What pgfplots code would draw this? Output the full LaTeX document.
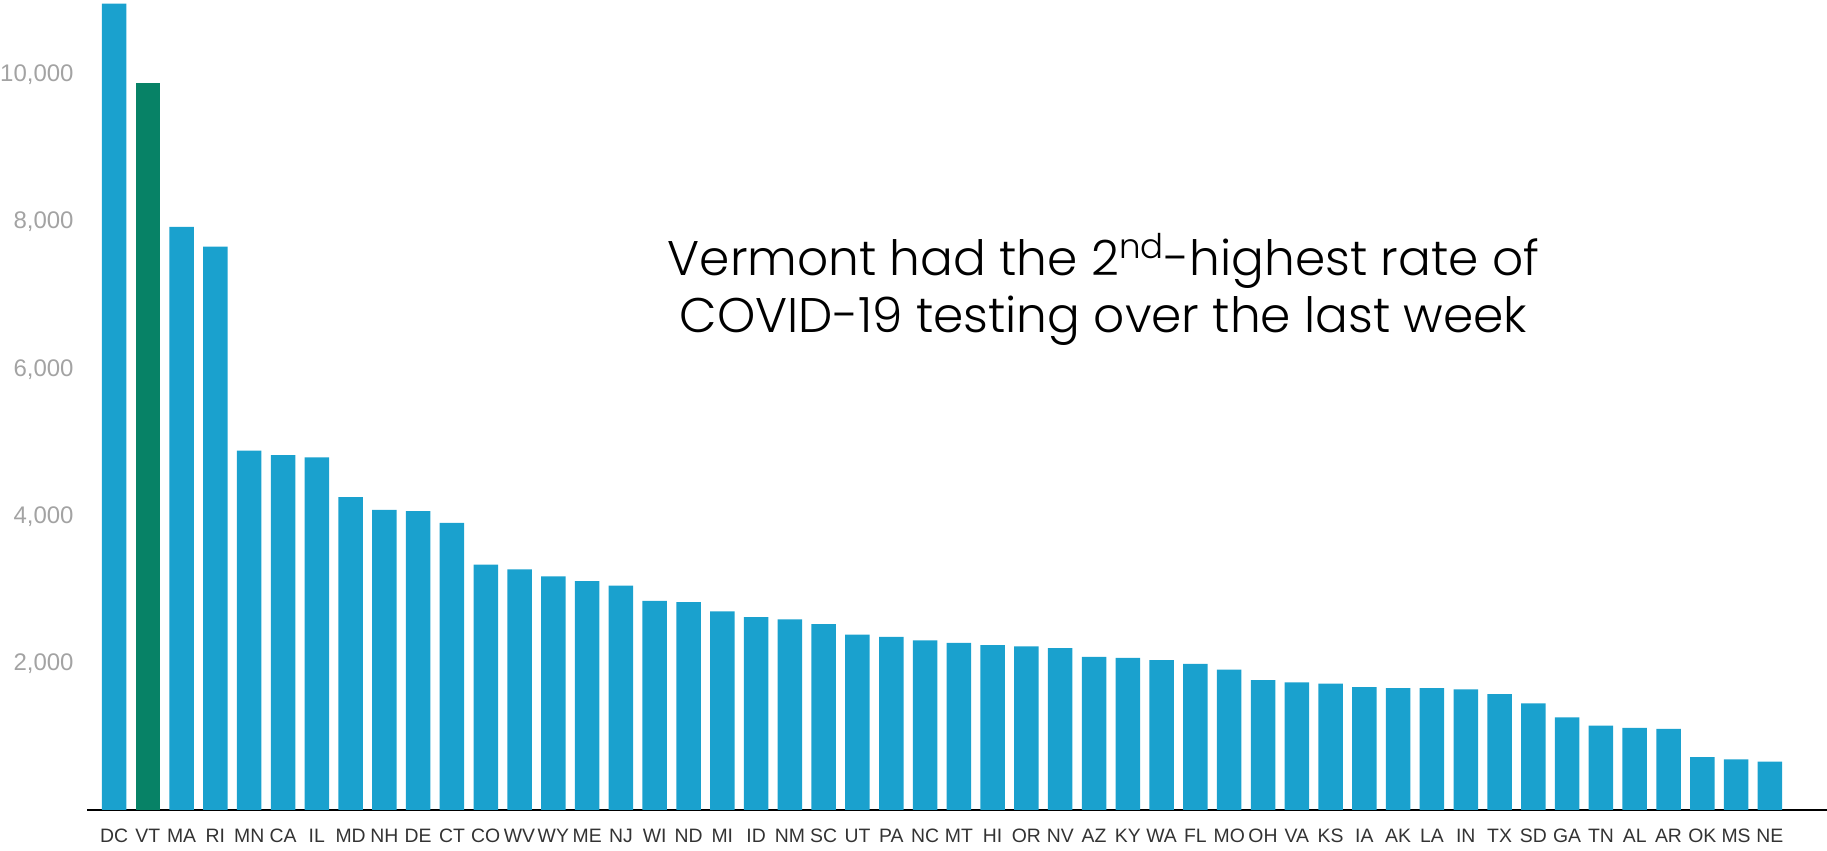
\documentclass[border=0pt]{standalone}
\usepackage{fontspec}
\setmainfont{Liberation Sans}
\IfFontExistsTF{Poppins Light}{\newfontfamily\titlefont{Poppins Light}}{\newfontfamily\titlefont{Poppins}}
\usepackage{pgfplots}
\pgfplotsset{compat=1.18}
\definecolor{barblue}{HTML}{1AA1CE}
\definecolor{vtgreen}{HTML}{078266}
\definecolor{ticky}{HTML}{A3A3A3}
\definecolor{tickx}{HTML}{333333}

\begin{document}
\begin{tikzpicture}
  \path[use as bounding box] (0,0) rectangle (913.5bp,425.5bp);
  \begin{axis}[at={(43.5bp,20.5bp)},anchor=south west,scale only axis,
    width=870bp,height=405bp,
    xmin=-0.8,xmax=50.69,ymin=0,ymax=10990,
    ybar,bar width=12.25bp,bar shift=0pt,
    axis x line*=bottom,axis y line*=left,
    y axis line style={draw=none},
    x axis line style={line width=1bp,black},
    major tick length=0pt,
    xtick={0,...,49},
    xticklabels={DC,VT,MA,RI,MN,CA,IL,MD,NH,DE,CT,CO,WV,WY,ME,NJ,WI,ND,MI,ID,NM,SC,UT,PA,NC,MT,HI,OR,NV,AZ,KY,WA,FL,MO,OH,VA,KS,IA,AK,LA,IN,TX,SD,GA,TN,AL,AR,OK,MS,NE},
    ytick={2000,4000,6000,8000,10000},
    scaled y ticks=false,
    /pgf/number format/assume math mode=true,
    /pgf/number format/1000 sep={,},
    yticklabel style={font=\fontsize{12bp}{14bp}\selectfont,text=ticky,anchor=east,inner sep=0pt,text depth=0pt,xshift=-6.5bp},
    xticklabel style={font=\fontsize{9.7bp}{11bp}\selectfont,text=tickx,anchor=north,inner sep=0pt,yshift=-9.5bp},
    clip=false]
    \addplot[fill=barblue,draw=none] coordinates {
      (0,10940) (2,7913) (3,7644) (4,4877) (5,4814) (6,4783) (7,4245) (8,4071) (9,4055)
      (10,3897) (11,3328) (12,3265) (13,3170) (14,3107) (15,3043) (16,2838) (17,2822)
      (18,2696) (19,2617) (20,2585) (21,2522) (22,2379) (23,2348) (24,2300) (25,2269)
      (26,2237) (27,2221) (28,2195) (29,2079) (30,2065) (31,2032) (32,1984) (33,1905)
      (34,1763) (35,1731) (36,1715) (37,1668) (38,1652) (39,1652) (40,1636) (41,1573)
      (42,1447) (43,1257) (44,1146) (45,1115) (46,1099) (47,719) (48,688) (49,656)};
    \addplot[fill=vtgreen,draw=none] coordinates {(1,9860)};
  \end{axis}
  \node[font=\titlefont\fontsize{24.3bp}{30bp}\selectfont,anchor=base,inner sep=0pt]
    at (551.75bp,287.5bp) {Vermont had the 2\textsuperscript{nd}-highest rate of};
  \node[font=\titlefont\fontsize{24.3bp}{30bp}\selectfont,anchor=base,inner sep=0pt]
    at (551.75bp,259bp) {COVID-19 testing over the last week};
\end{tikzpicture}
\end{document}
